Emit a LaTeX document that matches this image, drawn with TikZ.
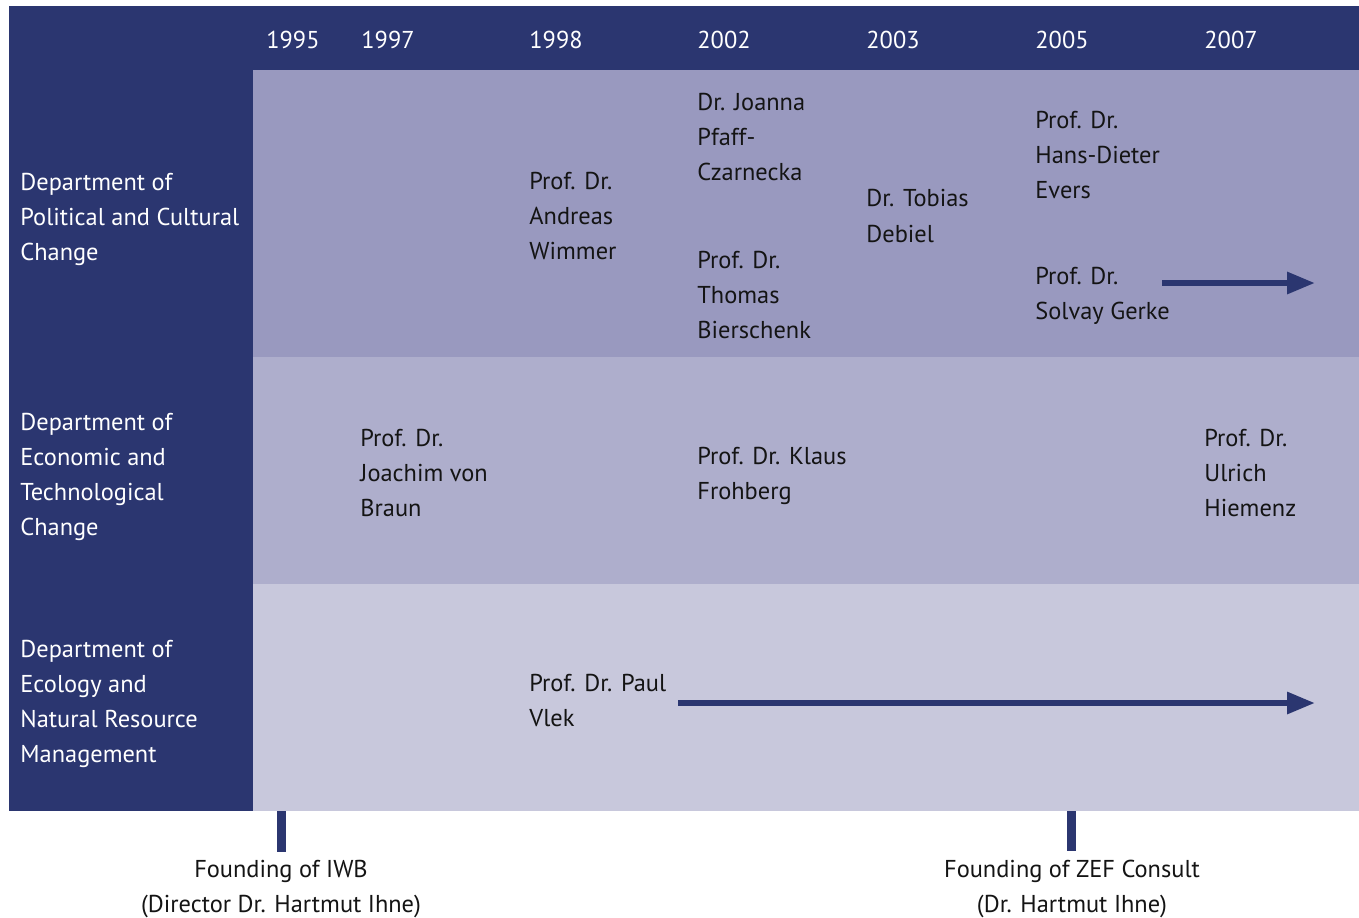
\documentclass[tikz,border=0pt]{standalone}
\usepackage{fontspec}
\setmainfont{PT Sans}
\usetikzlibrary{arrows.meta,positioning,calc}
\definecolor{zefnavy}{HTML}{2B3670}
\definecolor{rowone}{HTML}{9999BF}
\definecolor{rowtwo}{HTML}{AEAECC}
\definecolor{rowthree}{HTML}{C8C8DC}
\tikzstyle{year}=[text=white,anchor=west,inner sep=0pt,font=\fontsize{12.2}{17.5}\selectfont]
\tikzstyle{person}=[text=black!92,anchor=west,align=left,inner sep=0pt,font=\fontsize{12.2}{17.5}\selectfont]
\tikzstyle{dept}=[person,text=white]
\tikzstyle{founding}=[person,anchor=center,align=center]
\tikzstyle{tenure}=[line width=3pt,draw=zefnavy,-{Triangle[length=14pt,width=10.5pt]}]
\tikzstyle{marker}=[line width=4.5pt,draw=zefnavy]

\begin{document}
\begin{tikzpicture}[x=0.5pt,y=-0.5pt]
\useasboundingbox (0,0) rectangle (1359,917);
\fill[white] (0,0) rectangle (1359,917);
% panels
\fill[zefnavy] (9,6) rectangle (1359,70);
\fill[zefnavy] (9,70) rectangle (253,811);
\fill[rowone] (253,70) rectangle (1359,357);
\fill[rowtwo] (253,357) rectangle (1359,584);
\fill[rowthree] (253,584) rectangle (1359,811);
% years
\foreach \yr/\x in {1995/266,1997/361,1998/529,2002/697,2003/866,2005/1035,2007/1204}
  \node[year] (y\yr) at (\x,40) {\yr};
% departments
\node[dept] (polit) at (20,219) {Department of\\Political and Cultural\\Change};
\node[dept] (econ) at (20,477) {Department of\\Economic and\\Technological\\Change};
\node[dept] (ecol) at (20,704) {Department of\\Ecology and\\Natural Resource\\Management};
% row 1
\node[person] (wimmer) at (529,216) {Prof. Dr.\\Andreas\\Wimmer};
\node[person] (pfaff) at (697,137) {Dr. Joanna\\Pfaff-\\Czarnecka};
\node[person] (bierschenk) at (697,295) {Prof. Dr.\\Thomas\\Bierschenk};
\node[person] (debiel) at (866,216) {Dr. Tobias\\Debiel};
\node[person] (evers) at (1035,155) {Prof. Dr.\\Hans-Dieter\\Evers};
\node[person] (gerke) at (1035,296) {Prof. Dr.\\Solvay Gerke};
% row 2
\node[person] (braun) at (360,473) {Prof. Dr.\\Joachim von\\Braun};
\node[person] (frohberg) at (697,476) {Prof. Dr. Klaus\\Frohberg};
\node[person] (hiemenz) at (1204,473) {Prof. Dr.\\Ulrich\\Hiemenz};
% row 3
\node[person] (vlek) at (529,700) {Prof. Dr. Paul\\Vlek};
% ongoing tenures
\coordinate (gerkestart) at (1162,283);
\coordinate (gerkeend) at (1315,283);
\coordinate (vlekstart) at (678,703);
\coordinate (vlekend) at (1315,703);
\draw[tenure] (gerkestart) -- (gerkeend);
\draw[tenure] (vlekstart) -- (vlekend);
% foundings
\node[founding] (iwb) at (281,889) {Founding of IWB\\(Director Dr. Hartmut Ihne)};
\node[founding] (zefc) at (1072,889) {Founding of ZEF Consult\\(Dr. Hartmut Ihne)};
\coordinate (iwbtop) at (281.5,811);
\coordinate (zefctop) at (1071.5,811);
\draw[marker] (iwbtop) -- (281.5,852);
\draw[marker] (zefctop) -- (1071.5,851);
\end{tikzpicture}
\end{document}
